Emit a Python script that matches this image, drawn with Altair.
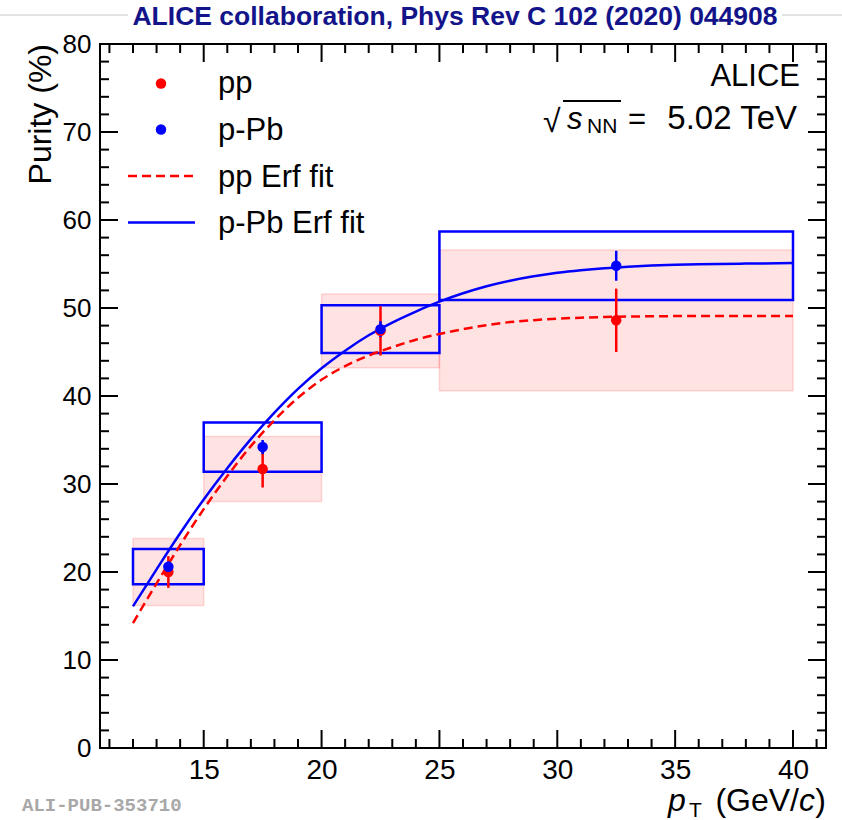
import altair as alt
import pandas as pd

# pT bins (GeV/c)
bin_lo = [12, 15, 20, 25]
bin_hi = [15, 20, 25, 40]
bin_mid = [13.5, 17.5, 22.5, 32.5]

# Isolated-photon purity (%) in pp collisions
pp_val = [20.0, 31.7, 47.4, 48.6]
pp_stat = [1.8, 2.1, 2.8, 3.6]
pp_sys = [3.8, 3.7, 4.2, 8.0]

# Isolated-photon purity (%) in p-Pb collisions
ppb_val = [20.6, 34.2, 47.6, 54.8]
ppb_stat = [0.6, 0.8, 0.9, 1.7]
ppb_sys = [2.0, 2.8, 2.7, 3.9]

# Erf fit curves
fit_pt = [12, 13, 14, 15, 16, 17, 18, 19, 20, 21, 22, 23, 24, 25, 26, 27, 28, 29, 30, 31,
          32, 33, 34, 35, 36, 38, 40]
pp_fit = [14.2, 18.7, 23.05, 27.15, 30.9, 34.3, 37.25, 39.8, 41.85, 43.4, 44.6, 45.55, 46.4,
          47.05, 47.6, 48.05, 48.4, 48.62, 48.78, 48.9, 48.98, 49.03, 49.06, 49.08, 49.09,
          49.1, 49.1]
ppb_fit = [16.1, 20.3, 24.4, 28.25, 31.8, 35.1, 38.1, 40.8, 43.15, 45.15, 46.9, 48.35, 49.6,
           50.72, 51.67, 52.47, 53.1, 53.6, 54.0, 54.3, 54.53, 54.7, 54.83, 54.92, 54.98,
           55.05, 55.1]

# Axis ticks
x_labels = [15, 20, 25, 30, 35, 40]
x_minor = [v for v in range(11, 42) if v % 5 != 0]
y_labels = [0, 10, 20, 30, 40, 50, 60, 70, 80]
y_major = [10, 20, 30, 40, 50, 60, 70]
y_minor = [v for v in range(2, 80, 2) if v % 10 != 0]

legend_labels = ["pp", "p-Pb", "pp Erf fit", "p-Pb Erf fit"]

W, H = 726, 704
RED, BLUE = "#ff0000", "#0000ff"
SANS = "Liberation Sans"
MAJOR, MINOR = 18, 9

xs = alt.Scale(domain=[10.6, 41.4], nice=False, zero=False)
ys = alt.Scale(domain=[0, 80], nice=False, zero=False)
xaxis = alt.Axis(values=x_labels, ticks=False, tickSize=0, domain=False, grid=False,
                 labelFont=SANS, labelFontSize=28, labelPadding=8,
                 labelColor="black", labelFlush=False, labelOverlap=False, title=None)
yaxis = alt.Axis(values=y_labels, ticks=False, tickSize=0, domain=False, grid=False,
                 labelFont=SANS, labelFontSize=26, labelPadding=9,
                 labelColor="black", labelOverlap=False, title=None)


def X(field):
    return alt.X(field, scale=xs, axis=xaxis)


def Y(field):
    return alt.Y(field, scale=ys, axis=yaxis)


bins = pd.DataFrame({
    "lo": bin_lo, "hi": bin_hi, "mid": bin_mid,
    "pp": pp_val, "pp_stat": pp_stat, "pp_sys": pp_sys,
    "ppb": ppb_val, "ppb_stat": ppb_stat, "ppb_sys": ppb_sys,
})
base = alt.Chart(bins).transform_calculate(
    pp_s1="datum.pp - datum.pp_sys", pp_s2="datum.pp + datum.pp_sys",
    pp_e1="datum.pp - datum.pp_stat", pp_e2="datum.pp + datum.pp_stat",
    ppb_s1="datum.ppb - datum.ppb_sys", ppb_s2="datum.ppb + datum.ppb_sys",
    ppb_e1="datum.ppb - datum.ppb_stat", ppb_e2="datum.ppb + datum.ppb_stat",
)

# systematic uncertainty boxes
pp_box = base.mark_rect(fill=RED, fillOpacity=0.11, stroke=RED, strokeOpacity=0.14,
                        strokeWidth=1.5).encode(
    x=X("lo:Q"), x2="hi:Q", y=Y("pp_s1:Q"), y2="pp_s2:Q")
ppb_box = base.mark_rect(fill="transparent", stroke=BLUE, strokeWidth=2.5).encode(
    x=X("lo:Q"), x2="hi:Q", y=Y("ppb_s1:Q"), y2="ppb_s2:Q")

# fits
fits = pd.DataFrame({"pt": fit_pt, "pp": pp_fit, "ppb": ppb_fit})
pp_line = alt.Chart(fits).mark_line(color=RED, strokeWidth=2.5, strokeDash=[9, 5],
                                    interpolate="monotone").encode(x=X("pt:Q"), y=Y("pp:Q"))
ppb_line = alt.Chart(fits).mark_line(color=BLUE, strokeWidth=2.5,
                                     interpolate="monotone").encode(x=X("pt:Q"), y=Y("ppb:Q"))

# statistical error bars and points
pp_err = base.mark_rule(color=RED, strokeWidth=2.5).encode(x=X("mid:Q"), y=Y("pp_e1:Q"), y2="pp_e2:Q")
ppb_err = base.mark_rule(color=BLUE, strokeWidth=2.5).encode(x=X("mid:Q"), y=Y("ppb_e1:Q"), y2="ppb_e2:Q")
pp_pts = base.mark_circle(color=RED, size=110, opacity=1).encode(x=X("mid:Q"), y=Y("pp:Q"))
ppb_pts = base.mark_circle(color=BLUE, size=110, opacity=1).encode(x=X("mid:Q"), y=Y("ppb:Q"))


# inward ticks on all four sides
def xticks(vals, length):
    d = alt.Chart(pd.DataFrame({"v": vals}))
    bot = d.mark_rule(color="black", strokeWidth=2).encode(
        x=X("v:Q"), y=alt.value(H), y2=alt.value(H - length))
    top = d.mark_rule(color="black", strokeWidth=2).encode(
        x=X("v:Q"), y=alt.value(0), y2=alt.value(length))
    return [bot, top]


def yticks(vals, length):
    d = alt.Chart(pd.DataFrame({"v": vals}))
    left = d.mark_rule(color="black", strokeWidth=2).encode(
        y=Y("v:Q"), x=alt.value(0), x2=alt.value(length))
    right = d.mark_rule(color="black", strokeWidth=2).encode(
        y=Y("v:Q"), x=alt.value(W), x2=alt.value(W - length))
    return [left, right]


ticks = (xticks(x_labels, MAJOR) + xticks(x_minor, MINOR)
         + yticks(y_major, MAJOR) + yticks(y_minor, MINOR))

one = pd.DataFrame({"t": [""]})


def label(text, x, y, size=31, align="left", baseline="alphabetic", color="black",
          font=SANS, style="normal", weight="normal", angle=0):
    return alt.Chart(pd.DataFrame({"t": [text]})).mark_text(
        align=align, baseline=baseline, font=font, fontSize=size, fontStyle=style,
        fontWeight=weight, color=color, angle=angle).encode(
        x=alt.value(x), y=alt.value(y), text="t:N")


def seg(x1, x2, y, color, width=2.5, dash=None):
    kw = dict(color=color, strokeWidth=width)
    if dash:
        kw["strokeDash"] = dash
    return alt.Chart(one).mark_rule(**kw).encode(x=alt.value(x1), x2=alt.value(x2), y=alt.value(y))


def dot(x, y, color):
    return alt.Chart(one).mark_circle(color=color, size=110, opacity=1).encode(
        x=alt.value(x), y=alt.value(y))


legend = [
    dot(61, 39.5, RED), label(legend_labels[0], 118, 49),
    dot(61, 85.5, BLUE), label(legend_labels[1], 118, 96),
    seg(28, 95, 132, RED, dash=[9, 5]), label(legend_labels[2], 118, 142.5),
    seg(28, 95, 178.5, BLUE), label(legend_labels[3], 118, 189),
]

energy = [
    label("ALICE", 700, 42, align="right"),
    label("\u221a", 443, 88, size=32),
    seg(463, 521, 57, "black", width=2),
    label("s", 467, 85, style="italic"),
    label("NN", 487, 89, size=21),
    label("=", 537, 85, align="center"),
    label("5.02 TeV", 697, 85, size=33, align="right"),
]

axis_titles = [
    label("Purity (%)", -49, 0, size=32, align="right", angle=270),
    label("p", 568, 767, size=32, style="italic"),
    label("T", 589, 773, size=21),
    label("(GeV/", 699, 767, size=32, align="right"),
    label("c", 715, 767, size=32, align="right", style="italic"),
    label(")", 726, 767, size=32, align="right"),
]

header = [
    seg(-100, 28, -29, "#c8c8c8", width=1),
    seg(682, 742, -29, "#c8c8c8", width=1),
    label("ALICE collaboration, Phys Rev C 102 (2020) 044908", 355, -27, size=26.5,
          align="center", baseline="middle", color="#14148a", weight="bold"),
    label("ALI-PUB-353710", -78, 761, size=19, baseline="middle", color="#a8a8a8",
          font="Liberation Mono", weight="bold"),
]

chart = alt.layer(
    pp_box, ppb_box, pp_line, ppb_line, pp_err, ppb_err, pp_pts, ppb_pts,
    *ticks, *legend, *energy, *axis_titles, *header,
).properties(
    width=W, height=H,
    padding={"left": 100, "top": 44, "right": 16, "bottom": 72},
    autosize=alt.AutoSizeParams(type="none"),
).configure_view(stroke="black", strokeWidth=2)

chart.save("out.html", embed_options={"renderer": "svg", "actions": False})
